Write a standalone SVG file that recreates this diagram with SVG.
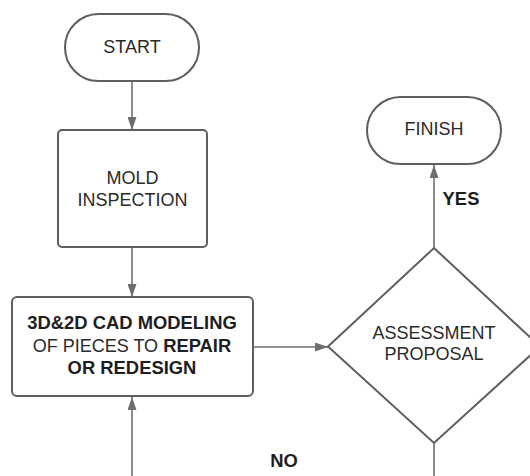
<svg xmlns="http://www.w3.org/2000/svg" width="530" height="476" viewBox="0 0 530 476">
<defs>
<style>
.n{fill:#fff;stroke:#5e5e5e;stroke-width:2}
.c{fill:none;stroke:#6e6e6e;stroke-width:1.6}
text{font-family:"Liberation Sans",Arial,sans-serif;font-size:18px;fill:#2a2a2a;text-anchor:middle}
.b{font-weight:bold;fill:#1e1e1e;font-size:18.4px}
</style>
<marker id="ah" viewBox="0 0 13 9" refX="13" refY="4.5" markerWidth="13" markerHeight="9" markerUnits="userSpaceOnUse" orient="auto">
<path d="M0,0 L13,4.5 L0,9 Z" fill="#6e6e6e"/>
</marker>
</defs>
<rect width="530" height="476" fill="#fff"/>
<g id="connectors">
<line class="c" x1="132" y1="81" x2="132" y2="130" marker-end="url(#ah)"/>
<line class="c" x1="132" y1="247" x2="132" y2="297" marker-end="url(#ah)"/>
<line class="c" x1="253" y1="347" x2="328" y2="347" marker-end="url(#ah)"/>
<line class="c" x1="434" y1="248" x2="434" y2="165" marker-end="url(#ah)"/>
<line class="c" x1="434" y1="443" x2="434" y2="480"/>
<line class="c" x1="132" y1="480" x2="132" y2="397" marker-end="url(#ah)"/>
<text class="b" x="461" y="204.5">YES</text>
<text class="b" x="284" y="466.5">NO</text>
</g>
<g id="start">
<rect class="n" x="65" y="14" width="134" height="67" rx="33.5"/>
<text x="132" y="53">START</text>
</g>
<g id="mold">
<rect class="n" x="58" y="130" width="149" height="117" rx="4"/>
<text x="132.5" y="183.5">MOLD</text>
<text x="132.5" y="205.5">INSPECTION</text>
</g>
<g id="cad">
<rect class="n" x="12" y="297" width="241" height="99" rx="5"/>
<text class="b" x="132" y="329">3D&amp;2D CAD MODELING</text>
<text x="132" y="351.5">OF PIECES TO <tspan class="b">REPAIR</tspan></text>
<text class="b" x="132" y="373.5">OR REDESIGN</text>
</g>
<g id="finish">
<rect class="n" x="367" y="97" width="134" height="67" rx="33.5"/>
<text x="434" y="135">FINISH</text>
</g>
<g id="assessment">
<polygon class="n" points="434,248 540,346.5 434,443 328,346.5"/>
<text x="434" y="339">ASSESSMENT</text>
<text x="434" y="359.5">PROPOSAL</text>
</g>
</svg>
